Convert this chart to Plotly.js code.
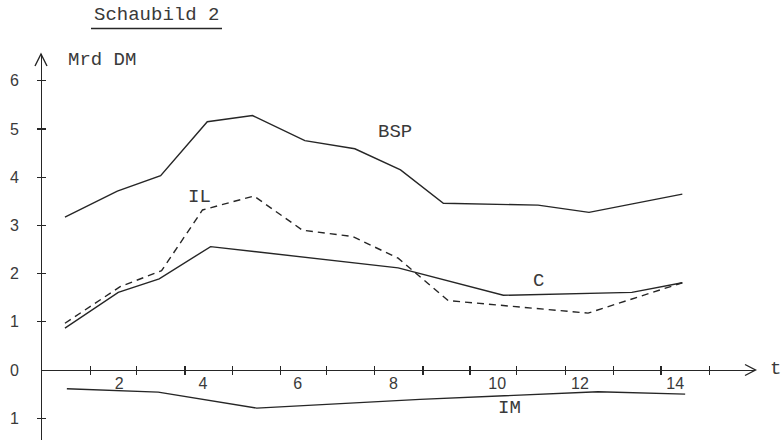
<!DOCTYPE html>
<html>
<head>
<meta charset="utf-8">
<script src="https://cdn.plot.ly/plotly-3.0.1.min.js"></script>
<style>html,body{margin:0;padding:0;background:#fff}</style>
</head>
<body>
<div id="chart" style="width:781px;height:440px"></div>
<script>
// ---- data ----
const tBSP = [1.02, 2.12, 3.03, 4.01, 4.96, 6.06, 7.11, 8.07, 8.97, 10.96, 12.03, 13.99];
const BSP  = [3.17, 3.71, 4.03, 5.15, 5.28, 4.76, 4.59, 4.15, 3.46, 3.42, 3.27, 3.65];
const tIL  = [1.02, 2.18, 3.05, 3.91, 4.99, 6.01, 7.06, 8.02, 9.07, 12.01, 13.99];
const IL   = [0.97, 1.73, 2.06, 3.32, 3.61, 2.90, 2.77, 2.32, 1.44, 1.18, 1.81];
const tC   = [1.02, 2.14, 3.00, 4.08, 8.02, 10.23, 12.93, 13.99];
const C    = [0.87, 1.61, 1.89, 2.56, 2.12, 1.55, 1.61, 1.81];
const tIM  = [1.06, 2.98, 5.05, 8.48, 12.22, 14.05];
const IM   = [-0.39, -0.46, -0.79, -0.61, -0.45, -0.50];

// axis ticks / labels
const xTickMarks = [1.55, 2.53, 3.54, 4.54, 5.54, 6.52, 7.52, 8.54, 9.53, 10.51, 11.53, 12.54, 13.54, 14.56];
const xLabelPos  = [2.16, 3.92, 5.91, 7.92, 10.1, 11.84, 13.84];
const xLabelText = ['2', '4', '6', '8', '10', '12', '14'];
const yTickMarks = [6, 5, 4, 3, 2, 1, -1];
const yLabelPos  = [6, 5, 4, 3, 2, 1, 0, -1];
const yLabelText = ['6', '5', '4', '3', '2', '1', '0', '1'];

const seriesNames = ['BSP', 'IL', 'C', 'IM'];

// ---- layout helpers (pixel -> paper) ----
const W = 781, H = 440;
const px = x => x / W;
const py = y => 1 - y / H;
const path = pts => 'M' + pts.map(p => px(p[0]).toFixed(5) + ',' + py(p[1]).toFixed(5)).join(' L');

const ink = '#262626';
const txt = '#3a3a3a';
const mono = 'Liberation Mono, Courier New, monospace';
const sans = 'Liberation Sans, Arial, sans-serif';

const xRange = [0.5168, 15.517];
const yRange = [-1.4523, 6.556];
const xDomain = [41 / W, 755 / W];
const yDomain = [0, 1 - 54 / H];
const xPos = 1 - 370 / H;
const yPos = 41 / W;

const lineStyle = {color: ink, width: 1.4};
const traces = [
  {x: tBSP, y: BSP, mode: 'lines', name: seriesNames[0], line: lineStyle},
  {x: tIL, y: IL, mode: 'lines', name: seriesNames[1], line: {color: ink, width: 1.4, dash: '7px,5px'}},
  {x: tC, y: C, mode: 'lines', name: seriesNames[2], line: lineStyle},
  {x: tIM, y: IM, mode: 'lines', name: seriesNames[3], line: lineStyle},
  // helper traces so the overlay axes are drawn
  {x: [], y: [], xaxis: 'x2', yaxis: 'y', mode: 'lines', hoverinfo: 'skip'},
  {x: [], y: [], xaxis: 'x3', yaxis: 'y', mode: 'lines', hoverinfo: 'skip'},
  {x: [], y: [], xaxis: 'x', yaxis: 'y2', mode: 'lines', hoverinfo: 'skip'},
  {x: [], y: [], xaxis: 'x', yaxis: 'y3', mode: 'lines', hoverinfo: 'skip'}
];

const baseX = {range: xRange, showgrid: false, zeroline: false, fixedrange: true, anchor: 'free', position: xPos};
const baseY = {range: yRange, showgrid: false, zeroline: false, fixedrange: true, anchor: 'free', position: yPos};

const layout = {
  width: W, height: H,
  margin: {l: 0, r: 0, t: 0, b: 0, pad: 0},
  paper_bgcolor: '#ffffff', plot_bgcolor: 'rgba(0,0,0,0)',
  showlegend: false,
  xaxis: Object.assign({}, baseX, {
    domain: xDomain, showline: true, linecolor: ink, linewidth: 1.3,
    tickmode: 'array', tickvals: xTickMarks, ticks: 'outside', ticklen: 4, tickwidth: 1.2, tickcolor: ink,
    showticklabels: false
  }),
  xaxis2: Object.assign({}, baseX, {
    overlaying: 'x', side: 'top', showline: false,
    tickmode: 'array', tickvals: xTickMarks, ticks: 'outside', ticklen: 4, tickwidth: 1.2, tickcolor: ink,
    showticklabels: false
  }),
  xaxis3: Object.assign({}, baseX, {
    overlaying: 'x', side: 'bottom', showline: false,
    tickmode: 'array', tickvals: xLabelPos, ticktext: xLabelText, ticks: '',
    ticklabelstandoff: 2,
    tickfont: {family: sans, size: 16, color: txt}
  }),
  yaxis: Object.assign({}, baseY, {
    domain: yDomain, showline: true, linecolor: ink, linewidth: 1.3,
    tickmode: 'array', tickvals: yTickMarks, ticks: 'outside', ticklen: 4, tickwidth: 1.2, tickcolor: ink,
    showticklabels: false
  }),
  yaxis2: Object.assign({}, baseY, {
    overlaying: 'y', side: 'right', showline: false,
    tickmode: 'array', tickvals: yTickMarks, ticks: 'outside', ticklen: 4, tickwidth: 1.2, tickcolor: ink,
    showticklabels: false
  }),
  yaxis3: Object.assign({}, baseY, {
    overlaying: 'y', side: 'left', showline: false,
    tickmode: 'array', tickvals: yLabelPos, ticktext: yLabelText, ticks: '',
    ticklabelstandoff: 22,
    tickfont: {family: sans, size: 16, color: txt}
  }),
  shapes: [
    // title underline
    {type: 'line', xref: 'paper', yref: 'paper', x0: px(91), x1: px(222), y0: py(28.5), y1: py(28.5), line: {color: ink, width: 1.3}},
    // y-axis arrowhead
    {type: 'path', xref: 'paper', yref: 'paper', path: path([[35, 66], [41, 54], [47, 66]]), line: {color: ink, width: 1.4}},
    // x-axis arrowhead
    {type: 'path', xref: 'paper', yref: 'paper', path: path([[745, 364.5], [755.5, 370], [745, 375.5]]), line: {color: ink, width: 1.4}}
  ],
  annotations: [
    {text: 'Schaubild 2', xref: 'paper', yref: 'paper', x: px(156), y: py(15), xanchor: 'center', yanchor: 'middle', showarrow: false, font: {family: mono, size: 19, color: txt}},
    {text: 'Mrd DM', xref: 'paper', yref: 'paper', x: px(66), y: py(60), xanchor: 'left', yanchor: 'middle', showarrow: false, font: {family: mono, size: 19, color: txt}},
    {text: seriesNames[0], xref: 'paper', yref: 'paper', x: px(376), y: py(132), xanchor: 'left', yanchor: 'middle', showarrow: false, font: {family: mono, size: 19, color: txt}},
    {text: seriesNames[1], xref: 'paper', yref: 'paper', x: px(186), y: py(197), xanchor: 'left', yanchor: 'middle', showarrow: false, font: {family: mono, size: 19, color: txt}},
    {text: seriesNames[2], xref: 'paper', yref: 'paper', x: px(538), y: py(281), xanchor: 'center', yanchor: 'middle', showarrow: false, font: {family: mono, size: 19, color: txt}},
    {text: seriesNames[3], xref: 'paper', yref: 'paper', x: px(496), y: py(408), xanchor: 'left', yanchor: 'middle', showarrow: false, font: {family: mono, size: 19, color: txt}},
    {text: 't', xref: 'paper', yref: 'paper', x: px(775), y: py(369), xanchor: 'center', yanchor: 'middle', showarrow: false, font: {family: mono, size: 19, color: txt}}
  ]
};

Plotly.newPlot('chart', traces, layout, {staticPlot: true, displayModeBar: false});
</script>
</body>
</html>
